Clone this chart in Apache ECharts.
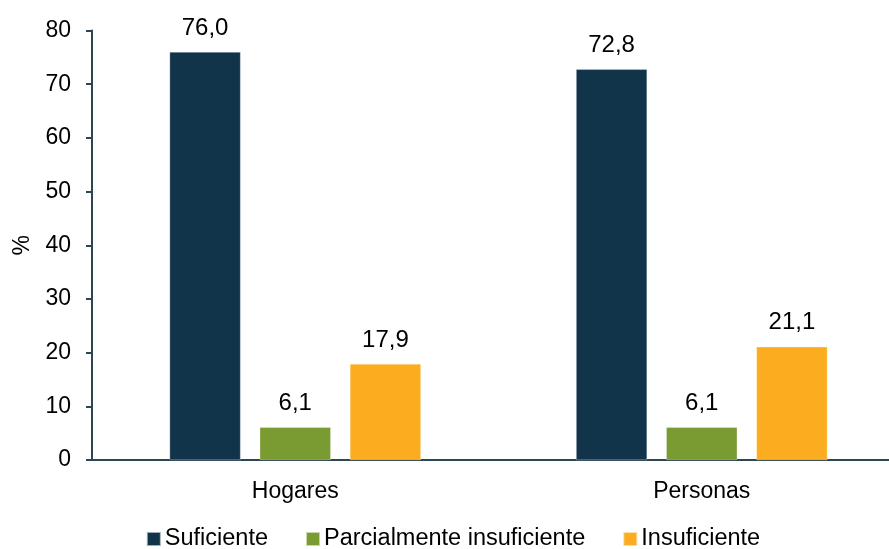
<!DOCTYPE html>
<html><head><meta charset="utf-8">
<script src="https://cdn.jsdelivr.net/npm/echarts@6/dist/echarts.min.js"></script>
<style>html,body{margin:0;padding:0;background:#fff;overflow:hidden}#c{width:906px;height:549px}</style>
</head><body><div id="c"></div>
<script>
const categories = ['Hogares', 'Personas'];
const seriesNames = ['Suficiente', 'Parcialmente insuficiente', 'Insuficiente'];
const suficiente = [76.0, 72.8];
const parcial = [6.1, 6.1];
const insuficiente = [17.9, 21.1];
const yTicks = [0, 10, 20, 30, 40, 50, 60, 70, 80];
const colors = ['#12344b', '#7a9a32', '#fbad1f'];
const font = 'Liberation Sans, Arial, sans-serif';
const chart = echarts.init(document.getElementById('c'));
const mk = (name, data, color) => ({
  name, type: 'bar', data, barWidth: 71, barGap: '27%',
  itemStyle: { color, borderColor: 'rgba(255,255,255,0.6)', borderWidth: 0.5 },
  label: { show: true, position: 'top', distance: 12, color: '#000', fontSize: 24, fontFamily: font,
    formatter: p => p.value.toFixed(1).replace('.', ',') }
});
chart.setOption({
  animation: false,
  color: colors,
  grid: { left: 92, right: 1, top: 30.5, height: 429.5, containLabel: false },
  legend: {
    top: 527, left: 'center', padding: 0, itemWidth: 14, itemHeight: 14, itemGap: 37,
    icon: 'rect', textStyle: { fontSize: 23.5, fontFamily: font, color: '#000', padding: [0, 0, 0, -1] },
    data: seriesNames
  },
  xAxis: {
    type: 'category', data: categories,
    axisLine: { lineStyle: { color: '#2c4654', width: 2 } },
    axisTick: { show: false },
    axisLabel: { fontSize: 23, fontFamily: font, color: '#000', margin: 20 }
  },
  yAxis: {
    type: 'value', min: yTicks[0], max: yTicks[yTicks.length - 1], interval: 10,
    name: '%', nameLocation: 'middle', nameGap: 51, nameRotate: 90,
    nameTextStyle: { fontSize: 23, fontFamily: font, color: '#000' },
    axisLine: { show: true, lineStyle: { color: '#2c4654', width: 2 } },
    axisTick: { show: true, length: 6, lineStyle: { color: '#2c4654', width: 2 } },
    axisLabel: { fontSize: 23, fontFamily: font, color: '#000', margin: 21 },
    splitLine: { show: false }
  },
  series: [mk(seriesNames[0], suficiente, colors[0]), mk(seriesNames[1], parcial, colors[1]), mk(seriesNames[2], insuficiente, colors[2])]
});
</script></body></html>
